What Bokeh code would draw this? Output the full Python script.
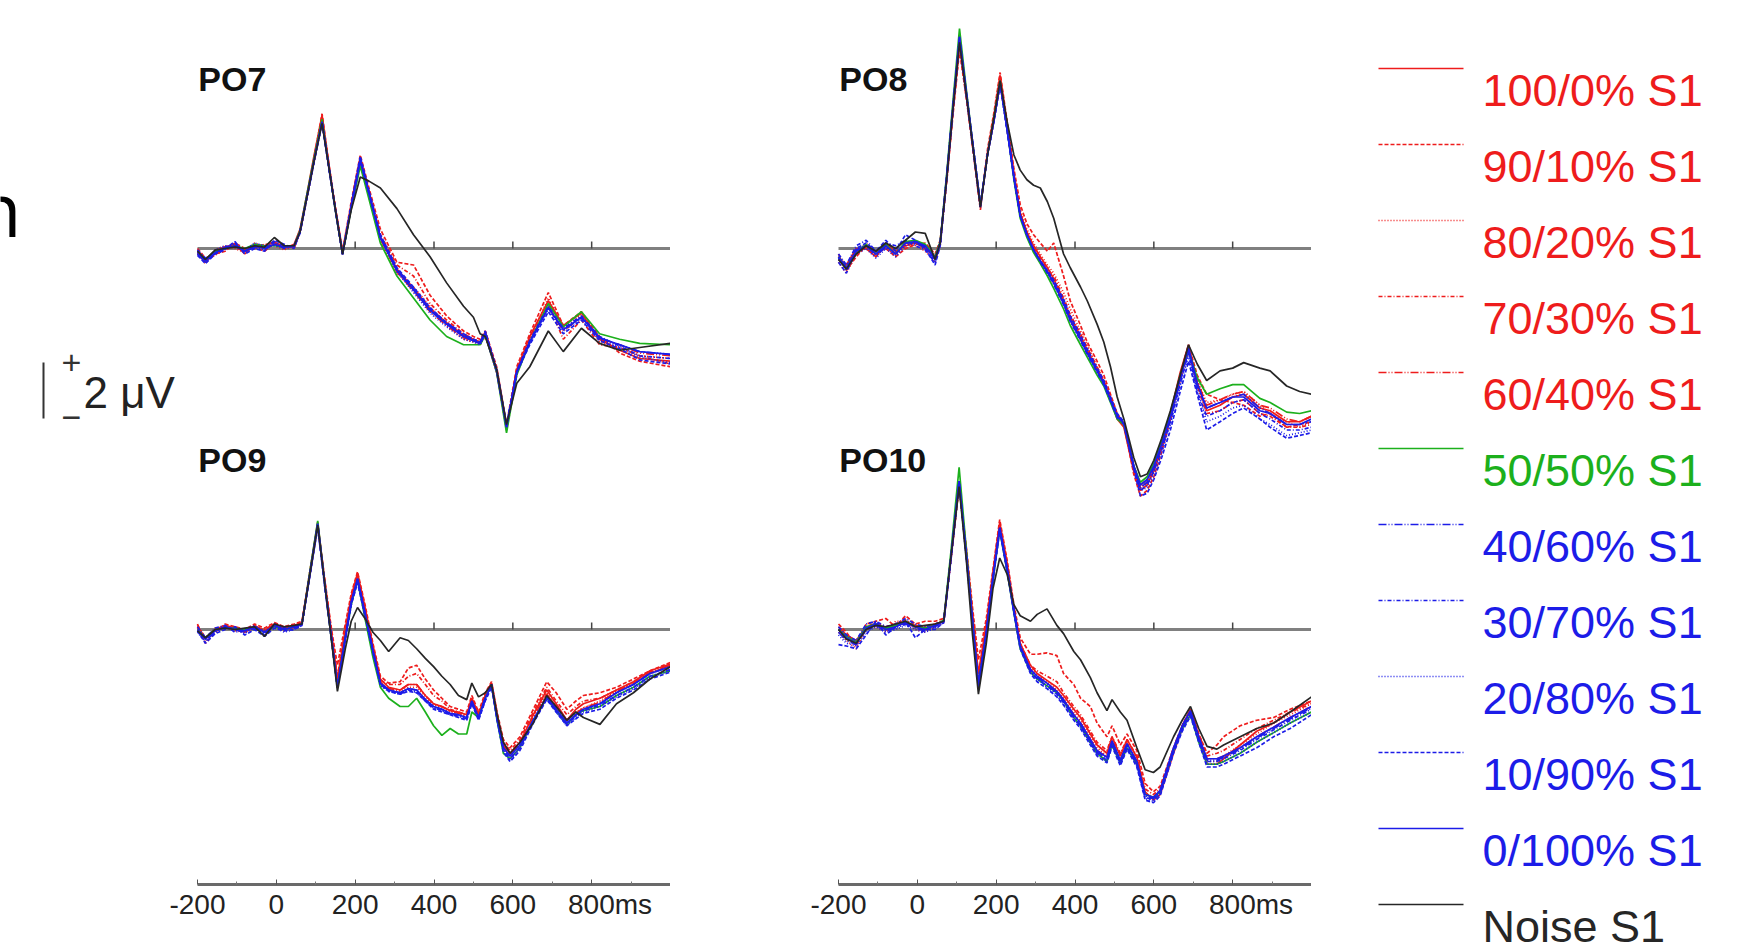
from bokeh.plotting import figure
from bokeh.layouts import row
from bokeh.models import Range1d, LinearAxis, FixedTicker
from bokeh.embed import file_html
from bokeh.resources import INLINE
from bokeh.core.properties import value

# ---------------- data (µV vs ms) ----------------
CONDITIONS = ["100/0% S1", "90/10% S1", "80/20% S1", "70/30% S1", "60/40% S1",
              "50/50% S1", "40/60% S1", "30/70% S1", "20/80% S1", "10/90% S1",
              "0/100% S1", "Noise S1"]

T7 = [-200,-180,-155,-130,-105,-80,-55,-30,-5,20,45,60,78,96,116,135,150,168,190,213,235,264,306,348,390,432,475,500,517,530,559,584,610,643,690,728,774,820,871,922,1000]
PO7_100 = [-0.2,-0.5,-0.1,0.05,0.15,-0.2,0.15,0.1,0.25,0.0,0.15,0.7,2.0,3.4,4.85,2.9,1.4,-0.15,1.6,3.3,2.0,0.4,-0.75,-1.45,-2.2,-2.7,-3.15,-3.3,-3.4,-3.05,-4.4,-6.55,-4.4,-3.2,-1.9,-2.8,-2.35,-3.3,-3.7,-4.0,-4.1]
PO7_90 = [0.0,-0.35,-0.2,-0.1,0.2,0.0,0.05,-0.1,0.2,0.1,0.05,0.6,1.9,3.3,4.9,2.9,1.5,-0.1,1.7,3.4,2.2,0.7,-0.5,-0.6,-1.7,-2.45,-3.0,-3.2,-3.3,-3.0,-4.3,-6.4,-4.3,-3.1,-1.6,-2.8,-2.3,-3.2,-3.8,-4.1,-4.3]
PO7_80 = [-0.15,-0.55,-0.05,0.1,0.0,-0.15,0.2,0.05,0.1,-0.05,0.1,0.55,1.85,3.2,4.7,2.8,1.4,-0.2,1.5,3.1,1.9,0.3,-0.9,-1.4,-2.1,-2.8,-3.3,-3.4,-3.5,-3.2,-4.5,-6.6,-4.6,-3.3,-1.8,-2.9,-2.4,-3.4,-3.6,-3.9,-4.0]
PO7_70 = [-0.05,-0.4,-0.25,0.0,0.1,-0.05,0.0,0.15,0.2,0.1,0.0,0.6,1.9,3.25,4.75,2.85,1.45,-0.15,1.55,3.25,2.1,0.5,-0.6,-1.0,-2.0,-2.6,-3.1,-3.3,-3.4,-3.0,-4.4,-6.5,-4.5,-3.3,-2.0,-3.3,-2.6,-3.5,-3.6,-3.9,-4.2]
PO7_60 = [-0.1,-0.4,-0.1,0.05,0.05,-0.1,0.1,0.0,0.15,0.05,0.1,0.6,1.9,3.2,4.6,2.8,1.4,-0.2,1.5,3.15,2.0,0.35,-0.85,-1.55,-2.3,-2.8,-3.25,-3.35,-3.45,-3.1,-4.5,-6.5,-4.5,-3.4,-2.1,-3.0,-2.5,-3.3,-3.5,-3.8,-3.9]
PO7_50 = [-0.1,-0.4,-0.1,0.0,0.1,0.0,0.15,0.1,0.1,0.05,0.1,0.65,2.0,3.3,4.7,2.8,1.35,-0.2,1.45,3.0,1.8,0.2,-1.0,-1.8,-2.6,-3.2,-3.5,-3.5,-3.5,-3.15,-4.5,-6.7,-4.6,-3.4,-2.0,-2.85,-2.3,-3.1,-3.3,-3.45,-3.5]
PO7_40 = [-0.2,-0.5,-0.15,0.05,0.15,-0.1,0.05,-0.05,0.2,0.0,0.1,0.6,1.9,3.2,4.6,2.8,1.4,-0.2,1.5,3.2,2.0,0.4,-0.8,-1.5,-2.25,-2.75,-3.2,-3.35,-3.45,-3.1,-4.45,-6.45,-4.5,-3.4,-2.15,-2.95,-2.5,-3.25,-3.5,-3.75,-3.85]
PO7_30 = [-0.05,-0.35,-0.2,-0.05,0.2,-0.15,0.1,0.0,0.25,0.1,0.05,0.55,1.85,3.15,4.55,2.75,1.35,-0.2,1.55,3.3,2.05,0.45,-0.75,-1.45,-2.2,-2.7,-3.15,-3.3,-3.4,-3.05,-4.4,-6.4,-4.45,-3.35,-2.1,-2.9,-2.45,-3.2,-3.55,-3.9,-4.0]
PO7_20 = [-0.15,-0.5,-0.05,0.1,0.05,-0.05,0.2,0.1,0.1,0.05,0.1,0.6,1.9,3.2,4.55,2.8,1.4,-0.2,1.5,3.2,2.0,0.4,-0.85,-1.6,-2.35,-2.85,-3.3,-3.4,-3.5,-3.15,-4.5,-6.5,-4.55,-3.45,-2.2,-3.0,-2.55,-3.3,-3.6,-3.95,-4.15]
PO7_10 = [-0.25,-0.55,-0.2,0.0,0.25,-0.2,0.0,-0.1,0.3,0.15,0.0,0.6,1.9,3.2,4.6,2.8,1.4,-0.2,1.6,3.35,2.1,0.5,-0.7,-1.4,-2.15,-2.7,-3.1,-3.3,-3.4,-3.0,-4.4,-6.45,-4.5,-3.5,-2.3,-3.1,-2.6,-3.35,-3.65,-4.05,-4.2]
PO7_0 = [-0.1,-0.45,-0.15,0.0,0.1,-0.1,0.1,0.0,0.15,0.05,0.1,0.6,1.9,3.2,4.6,2.8,1.4,-0.2,1.5,3.2,2.0,0.4,-0.8,-1.5,-2.25,-2.75,-3.2,-3.35,-3.45,-3.1,-4.45,-6.5,-4.5,-3.4,-2.15,-2.95,-2.5,-3.25,-3.5,-3.75,-3.85]
PO7_NOISE = [-0.1,-0.4,-0.05,0.0,0.05,0.0,0.1,0.05,0.4,0.1,0.1,0.6,1.9,3.2,4.55,2.8,1.4,-0.2,1.4,2.6,2.45,2.2,1.45,0.5,-0.3,-1.25,-2.1,-2.5,-3.1,-3.2,-4.4,-6.4,-4.9,-4.3,-3.0,-3.75,-2.9,-3.45,-3.7,-3.6,-3.45]

T9 = [-200,-180,-155,-130,-105,-80,-55,-30,-5,20,45,65,85,105,125,140,155,175,190,206,225,245,264,285,314,335,356,378,399,420,441,462,483,496,513,530,546,560,576,593,618,652,686,710,737,760,779,821,863,906,948,1000]
PO9_100 = [0.1,-0.3,0.0,0.15,0.05,-0.1,0.15,-0.05,0.2,0.05,0.15,0.25,2.1,3.9,1.5,-0.1,-1.8,0.0,1.2,2.05,0.8,-0.6,-1.8,-2.1,-2.2,-2.0,-2.0,-2.4,-2.7,-2.8,-2.95,-3.0,-3.1,-2.5,-3.1,-2.4,-1.95,-3.1,-4.2,-4.5,-4.1,-3.1,-2.2,-2.7,-3.3,-2.9,-2.7,-2.5,-2.2,-1.9,-1.5,-1.25]
PO9_90 = [0.2,-0.5,-0.1,0.2,0.1,0.0,0.2,0.05,0.25,0.1,0.2,0.3,2.1,3.8,1.6,0.0,-1.3,0.2,1.3,2.1,0.9,-0.5,-1.7,-1.95,-1.9,-1.4,-1.3,-1.8,-2.2,-2.5,-2.8,-2.9,-3.0,-2.4,-3.0,-2.3,-1.9,-3.0,-4.0,-4.3,-3.9,-2.9,-1.9,-2.3,-2.9,-2.6,-2.4,-2.3,-2.1,-1.8,-1.5,-1.2]
PO9_80 = [0.05,-0.4,0.05,0.1,-0.05,-0.1,0.05,-0.15,0.1,-0.05,0.05,0.2,2.0,3.8,1.4,-0.3,-2.0,-0.2,1.0,1.9,0.6,-0.7,-1.9,-2.2,-2.25,-2.1,-2.1,-2.5,-2.75,-2.85,-3.0,-3.05,-3.15,-2.55,-3.15,-2.45,-2.0,-3.2,-4.3,-4.6,-4.2,-3.2,-2.3,-2.8,-3.3,-3.0,-2.85,-2.6,-2.25,-1.95,-1.6,-1.3]
PO9_70 = [0.15,-0.3,-0.05,0.05,0.1,-0.05,0.1,0.0,0.2,0.0,0.1,0.2,2.0,3.8,1.5,-0.2,-1.7,0.0,1.1,2.0,0.7,-0.6,-1.85,-2.0,-2.0,-1.7,-1.6,-2.0,-2.4,-2.6,-2.9,-3.0,-3.1,-2.5,-3.1,-2.4,-1.95,-3.1,-4.1,-4.4,-4.0,-3.0,-2.1,-2.6,-3.1,-2.8,-2.6,-2.5,-2.2,-1.9,-1.6,-1.3]
PO9_60 = [0.0,-0.35,0.0,0.1,0.0,-0.05,0.1,-0.1,0.15,0.0,0.1,0.2,2.0,3.85,1.4,-0.3,-2.0,-0.2,1.0,1.9,0.65,-0.7,-1.9,-2.15,-2.2,-2.0,-2.0,-2.4,-2.7,-2.8,-2.95,-3.05,-3.15,-2.55,-3.15,-2.45,-2.0,-3.15,-4.25,-4.55,-4.15,-3.2,-2.35,-2.8,-3.3,-3.05,-2.85,-2.65,-2.25,-1.95,-1.55,-1.3]
PO9_50 = [0.0,-0.3,0.0,0.05,0.05,0.0,0.1,-0.1,0.1,0.0,0.1,0.2,2.1,3.95,1.4,-0.4,-2.1,-0.3,0.9,1.8,0.4,-1.0,-2.1,-2.5,-2.8,-2.8,-2.5,-3.0,-3.5,-3.85,-3.6,-3.8,-3.8,-3.0,-3.2,-2.5,-2.0,-3.3,-4.5,-4.7,-4.3,-3.3,-2.5,-2.95,-3.45,-3.1,-2.95,-2.8,-2.4,-2.1,-1.7,-1.5]
PO9_40 = [-0.05,-0.4,-0.1,0.1,0.0,-0.1,0.05,-0.15,0.15,0.0,0.05,0.2,2.0,3.85,1.4,-0.3,-2.1,-0.3,1.0,1.85,0.6,-0.75,-1.95,-2.2,-2.3,-2.15,-2.2,-2.55,-2.8,-2.9,-3.05,-3.1,-3.2,-2.6,-3.2,-2.5,-2.0,-3.2,-4.3,-4.6,-4.2,-3.3,-2.45,-2.9,-3.4,-3.1,-2.9,-2.7,-2.3,-2.0,-1.6,-1.35]
PO9_30 = [0.1,-0.3,0.05,0.15,-0.1,0.0,0.15,-0.2,0.2,0.05,0.1,0.2,2.0,3.8,1.35,-0.35,-2.1,-0.35,0.95,1.8,0.55,-0.8,-2.0,-2.2,-2.35,-2.2,-2.25,-2.6,-2.85,-2.95,-3.1,-3.15,-3.25,-2.65,-3.25,-2.55,-2.05,-3.25,-4.35,-4.7,-4.3,-3.35,-2.5,-2.95,-3.45,-3.15,-2.95,-2.75,-2.4,-2.1,-1.7,-1.45]
PO9_20 = [-0.1,-0.45,-0.05,0.05,0.05,-0.15,0.1,-0.05,0.1,-0.1,0.0,0.15,1.95,3.75,1.3,-0.4,-2.15,-0.4,0.9,1.75,0.5,-0.85,-2.05,-2.25,-2.35,-2.2,-2.3,-2.6,-2.85,-2.95,-3.1,-3.15,-3.25,-2.65,-3.25,-2.55,-2.05,-3.3,-4.4,-4.75,-4.3,-3.35,-2.5,-3.0,-3.5,-3.2,-3.0,-2.8,-2.45,-2.15,-1.75,-1.5]
PO9_10 = [-0.05,-0.5,-0.15,0.0,0.1,-0.2,0.0,-0.25,0.05,-0.05,0.0,0.15,1.95,3.7,1.3,-0.35,-2.1,-0.35,0.9,1.7,0.5,-0.8,-2.0,-2.25,-2.35,-2.25,-2.3,-2.6,-2.9,-3.0,-3.1,-3.2,-3.3,-2.7,-3.3,-2.6,-2.1,-3.3,-4.45,-4.8,-4.4,-3.4,-2.55,-3.0,-3.5,-3.25,-3.05,-2.9,-2.5,-2.2,-1.8,-1.55]
PO9_0 = [0.0,-0.35,-0.05,0.1,0.0,-0.05,0.1,-0.1,0.15,0.0,0.1,0.2,2.0,3.85,1.4,-0.3,-2.1,-0.3,1.0,1.85,0.6,-0.75,-1.95,-2.2,-2.3,-2.15,-2.2,-2.55,-2.8,-2.9,-3.05,-3.1,-3.2,-2.6,-3.2,-2.5,-2.0,-3.2,-4.3,-4.6,-4.2,-3.3,-2.45,-2.9,-3.4,-3.1,-2.9,-2.7,-2.3,-2.0,-1.6,-1.35]
PO9_NOISE = [-0.05,-0.3,0.0,0.05,0.0,0.05,0.1,-0.25,0.2,0.1,0.15,0.2,2.0,3.8,1.4,-0.4,-2.25,-0.7,0.3,0.8,0.4,-0.1,-0.4,-0.8,-0.3,-0.4,-0.7,-1.05,-1.35,-1.7,-2.0,-2.4,-2.55,-1.95,-2.45,-2.3,-2.0,-3.1,-4.1,-4.5,-4.1,-3.4,-2.4,-2.8,-3.3,-3.0,-3.2,-3.45,-2.7,-2.3,-1.8,-1.35]

T8 = [-200,-180,-155,-130,-105,-80,-55,-30,-5,20,45,58,75,90,107,125,140,160,178,195,210,228,245,261,278,295,312,330,346,371,388,414,431,456,473,490,507,524,549,566,583,600,620,642,667,688,710,734,768,800,828,869,895,937,970,1000]
PO8_100 = [-0.4,-0.6,0.0,0.0,-0.3,0.2,-0.1,0.1,0.2,0.0,-0.3,0.2,2.6,5.0,7.5,5.5,3.8,1.5,3.5,4.9,6.3,4.5,2.7,1.3,0.6,0.1,-0.3,-0.7,-1.1,-1.9,-2.5,-3.2,-3.7,-4.4,-4.85,-5.5,-6.2,-6.5,-8.1,-8.8,-8.6,-8.1,-7.2,-6.0,-4.5,-3.5,-4.9,-5.9,-5.7,-5.4,-5.3,-5.8,-5.9,-6.3,-6.3,-6.1]
PO8_90 = [-0.2,-0.8,-0.3,0.1,-0.1,0.0,-0.3,0.0,0.15,0.2,-0.2,0.3,2.5,4.8,7.2,5.4,3.7,1.4,3.6,5.0,6.4,4.6,2.9,1.6,0.9,0.5,0.2,-0.1,0.2,-1.0,-1.9,-2.8,-3.4,-4.1,-4.6,-5.3,-6.0,-6.4,-8.2,-9.0,-8.8,-8.3,-7.4,-6.2,-4.6,-3.5,-4.6,-5.3,-5.5,-5.6,-5.7,-6.1,-6.0,-6.5,-6.4,-6.3]
PO8_80 = [-0.5,-0.9,-0.2,0.2,-0.2,0.0,-0.25,0.1,0.1,-0.1,-0.5,0.1,2.5,4.9,7.3,5.4,3.8,1.5,3.4,4.8,6.2,4.5,2.8,1.4,0.7,0.2,-0.2,-0.6,-0.9,-1.6,-2.2,-3.0,-3.5,-4.3,-4.8,-5.4,-6.0,-6.4,-8.0,-8.7,-8.5,-8.0,-7.3,-6.2,-4.8,-3.7,-4.8,-5.6,-5.5,-5.3,-5.2,-5.7,-6.0,-6.3,-6.5,-6.3]
PO8_70 = [-0.3,-0.6,-0.1,0.1,-0.3,0.1,-0.15,0.15,0.25,0.05,-0.4,0.2,2.6,5.0,7.5,5.5,3.8,1.55,3.4,4.8,6.2,4.4,2.7,1.3,0.6,0.05,-0.35,-0.75,-1.0,-1.8,-2.4,-3.1,-3.6,-4.3,-4.8,-5.4,-6.1,-6.4,-8.0,-8.7,-8.5,-8.0,-7.2,-6.2,-4.7,-3.7,-5.0,-6.0,-5.9,-5.6,-5.5,-6.0,-6.1,-6.5,-6.5,-6.4]
PO8_60 = [-0.3,-0.7,-0.1,0.1,-0.2,0.1,-0.2,0.2,0.25,0.1,-0.35,0.2,2.7,5.1,7.6,5.6,3.9,1.6,3.4,4.7,6.0,4.3,2.6,1.2,0.5,-0.05,-0.45,-0.85,-1.25,-2.0,-2.6,-3.3,-3.8,-4.45,-4.9,-5.5,-6.1,-6.35,-7.9,-8.6,-8.4,-7.9,-7.1,-6.1,-4.7,-3.6,-4.8,-5.7,-5.5,-5.3,-5.2,-5.7,-5.8,-6.2,-6.3,-6.1]
PO8_50 = [-0.3,-0.7,-0.1,0.15,-0.2,0.15,-0.2,0.25,0.3,0.15,-0.3,0.25,2.8,5.3,8.0,5.7,3.9,1.6,3.4,4.8,6.1,4.3,2.5,1.1,0.4,-0.15,-0.55,-1.0,-1.45,-2.2,-2.8,-3.5,-3.95,-4.6,-5.0,-5.6,-6.2,-6.4,-7.9,-8.5,-8.3,-7.8,-7.0,-6.0,-4.6,-3.7,-4.7,-5.3,-5.1,-4.95,-4.95,-5.45,-5.6,-5.95,-6.0,-5.9]
PO8_40 = [-0.35,-0.75,-0.05,0.1,-0.25,0.05,-0.2,0.2,0.2,0.05,-0.4,0.2,2.7,5.1,7.7,5.6,3.9,1.6,3.4,4.7,6.0,4.3,2.6,1.2,0.5,-0.05,-0.45,-0.85,-1.25,-2.0,-2.6,-3.3,-3.8,-4.45,-4.9,-5.5,-6.1,-6.35,-7.9,-8.7,-8.5,-8.0,-7.2,-6.2,-4.8,-3.7,-5.0,-5.8,-5.6,-5.4,-5.3,-5.8,-6.0,-6.4,-6.4,-6.3]
PO8_30 = [-0.2,-0.6,0.1,0.3,-0.1,0.2,0.1,0.3,0.1,-0.05,-0.5,0.15,2.6,5.0,7.6,5.5,3.8,1.5,3.4,4.7,6.0,4.3,2.6,1.2,0.5,-0.05,-0.5,-0.9,-1.3,-2.05,-2.65,-3.35,-3.85,-4.5,-4.95,-5.55,-6.15,-6.4,-8.0,-8.8,-8.6,-8.1,-7.3,-6.3,-4.9,-3.8,-5.2,-6.1,-5.9,-5.6,-5.5,-6.0,-6.2,-6.6,-6.6,-6.5]
PO8_20 = [-0.4,-0.8,-0.2,0.0,-0.35,0.0,-0.3,0.1,0.2,0.0,-0.45,0.2,2.7,5.1,7.6,5.6,3.9,1.6,3.4,4.7,6.0,4.3,2.6,1.2,0.5,-0.05,-0.45,-0.85,-1.2,-1.9,-2.5,-3.2,-3.7,-4.4,-4.85,-5.45,-6.05,-6.3,-7.9,-8.8,-8.7,-8.2,-7.4,-6.4,-5.0,-3.9,-5.2,-6.3,-6.1,-5.8,-5.7,-6.2,-6.4,-6.8,-6.7,-6.6]
PO8_10 = [-0.5,-0.9,0.0,0.2,-0.1,0.3,-0.1,0.5,0.3,0.0,-0.6,0.1,2.6,5.0,7.5,5.5,3.8,1.5,3.4,4.7,6.0,4.3,2.6,1.2,0.5,-0.05,-0.45,-0.8,-1.15,-1.85,-2.45,-3.15,-3.65,-4.35,-4.8,-5.4,-6.0,-6.3,-8.0,-9.0,-8.9,-8.4,-7.6,-6.6,-5.2,-4.1,-5.3,-6.6,-6.3,-6.0,-5.8,-6.2,-6.5,-6.9,-6.8,-6.7]
PO8_0 = [-0.3,-0.7,-0.1,0.1,-0.2,0.1,-0.2,0.2,0.25,0.1,-0.35,0.2,2.7,5.1,7.7,5.6,3.9,1.6,3.4,4.7,6.0,4.3,2.6,1.2,0.5,-0.05,-0.45,-0.85,-1.25,-2.0,-2.6,-3.3,-3.8,-4.45,-4.9,-5.5,-6.1,-6.35,-7.9,-8.6,-8.4,-7.9,-7.1,-6.1,-4.7,-3.6,-4.9,-5.8,-5.6,-5.4,-5.4,-5.9,-6.0,-6.4,-6.4,-6.2]
PO8_NOISE = [-0.4,-0.75,-0.2,0.1,-0.1,0.2,0.0,0.3,0.6,0.55,-0.4,0.2,2.6,5.0,7.5,5.5,3.8,1.5,3.4,4.8,6.1,4.6,3.4,2.85,2.5,2.3,2.2,1.7,1.1,-0.2,-0.7,-1.4,-1.9,-2.75,-3.4,-4.3,-5.4,-6.2,-7.6,-8.3,-8.2,-7.7,-6.9,-5.9,-4.6,-3.5,-4.2,-4.8,-4.45,-4.35,-4.15,-4.35,-4.45,-5.0,-5.2,-5.3]

T10 = [-200,-180,-155,-130,-105,-80,-55,-30,-5,20,45,67,85,106,125,140,155,175,192,209,228,245,261,287,304,329,354,371,397,414,439,456,481,494,515,532,557,578,599,616,650,672,693,714,735,760,777,819,861,904,946,1000]
PO10_100 = [0.1,-0.2,-0.4,0.1,0.15,0.05,0.2,0.2,0.15,0.05,0.2,0.3,2.6,5.3,2.8,0.6,-1.6,0.2,2.1,3.9,2.4,0.8,-0.5,-1.3,-1.6,-1.85,-2.1,-2.4,-2.9,-3.2,-3.8,-4.2,-4.5,-3.9,-4.6,-4.0,-4.65,-5.9,-6.2,-6.0,-4.5,-3.6,-2.9,-3.9,-4.9,-4.9,-4.7,-4.2,-3.7,-3.4,-3.0,-2.6]
PO10_90 = [0.2,-0.1,-0.6,0.2,0.3,0.4,0.1,0.5,0.2,0.3,0.3,0.4,2.5,5.2,2.9,0.8,-1.1,0.4,2.2,4.0,2.5,0.9,-0.3,-0.9,-0.9,-0.85,-0.95,-1.6,-2.0,-2.5,-2.8,-3.4,-3.9,-3.5,-4.2,-3.8,-4.4,-5.6,-5.9,-5.7,-4.3,-3.5,-2.9,-3.8,-4.5,-4.2,-3.9,-3.5,-3.3,-3.2,-2.9,-2.6]
PO10_80 = [-0.1,-0.4,-0.7,0.0,0.1,-0.1,0.3,0.3,0.0,-0.1,0.1,0.25,2.5,5.2,2.7,0.4,-1.8,0.0,2.0,3.8,2.3,0.75,-0.55,-1.4,-1.65,-1.9,-2.2,-2.5,-3.0,-3.3,-3.9,-4.3,-4.6,-4.0,-4.7,-4.1,-4.75,-5.95,-6.1,-5.9,-4.4,-3.5,-2.9,-3.9,-4.8,-4.8,-4.6,-4.2,-3.8,-3.4,-3.1,-2.7]
PO10_70 = [0.0,-0.2,-0.5,0.1,0.25,0.1,0.2,0.35,0.15,0.1,0.2,0.3,2.6,5.3,2.7,0.5,-1.7,0.1,2.0,3.8,2.3,0.75,-0.5,-1.3,-1.5,-1.7,-1.9,-2.3,-2.8,-3.1,-3.7,-4.1,-4.4,-3.9,-4.5,-4.0,-4.6,-5.8,-6.0,-5.8,-4.4,-3.5,-2.9,-3.8,-4.6,-4.5,-4.4,-4.0,-3.6,-3.3,-3.0,-2.7]
PO10_60 = [0.0,-0.3,-0.5,0.05,0.2,0.0,0.1,0.25,0.1,0.0,0.15,0.3,2.6,5.4,2.6,0.3,-2.0,-0.1,1.9,3.7,2.2,0.7,-0.6,-1.45,-1.7,-1.95,-2.25,-2.55,-3.1,-3.4,-4.0,-4.4,-4.65,-4.05,-4.75,-4.15,-4.8,-6.0,-6.1,-5.85,-4.3,-3.5,-2.95,-3.9,-4.7,-4.7,-4.6,-4.3,-3.9,-3.55,-3.2,-2.8]
PO10_50 = [0.0,-0.25,-0.45,0.1,0.2,0.05,0.15,0.3,0.1,0.05,0.15,0.35,2.8,5.9,2.8,0.3,-2.0,-0.15,1.8,3.6,2.1,0.6,-0.7,-1.55,-1.8,-2.05,-2.3,-2.6,-3.2,-3.5,-4.1,-4.5,-4.8,-4.2,-4.85,-4.3,-4.9,-6.0,-6.1,-5.9,-4.4,-3.6,-3.1,-4.1,-4.9,-4.9,-4.8,-4.5,-4.1,-3.75,-3.4,-3.0]
PO10_40 = [-0.1,-0.4,-0.55,0.0,0.15,-0.05,0.05,0.2,0.05,-0.05,0.1,0.3,2.6,5.4,2.6,0.3,-2.0,-0.1,1.9,3.7,2.2,0.7,-0.6,-1.5,-1.75,-2.0,-2.3,-2.6,-3.15,-3.45,-4.05,-4.45,-4.7,-4.1,-4.8,-4.2,-4.85,-6.05,-6.15,-5.9,-4.35,-3.55,-3.0,-3.95,-4.75,-4.75,-4.65,-4.35,-3.95,-3.6,-3.25,-2.85]
PO10_30 = [0.1,-0.2,-0.4,0.2,0.3,0.1,0.2,0.4,0.2,0.1,0.2,0.3,2.6,5.4,2.6,0.3,-2.0,-0.1,1.9,3.7,2.2,0.7,-0.6,-1.5,-1.8,-2.05,-2.35,-2.65,-3.2,-3.5,-4.1,-4.5,-4.75,-4.15,-4.85,-4.25,-4.9,-6.1,-6.2,-5.95,-4.4,-3.6,-3.05,-4.0,-4.8,-4.8,-4.7,-4.4,-4.0,-3.65,-3.3,-2.9]
PO10_20 = [-0.2,-0.5,-0.6,-0.1,0.1,-0.1,0.0,0.15,0.0,-0.1,0.05,0.25,2.5,5.3,2.5,0.2,-2.1,-0.2,1.8,3.6,2.1,0.65,-0.65,-1.55,-1.8,-2.1,-2.4,-2.7,-3.25,-3.55,-4.15,-4.55,-4.8,-4.2,-4.9,-4.3,-4.95,-6.15,-6.25,-6.0,-4.45,-3.65,-3.1,-4.05,-4.9,-4.9,-4.8,-4.5,-4.1,-3.75,-3.4,-3.0]
PO10_10 = [-0.55,-0.6,-0.7,-0.2,0.3,-0.2,0.1,0.3,-0.3,0.0,0.0,0.25,2.5,5.3,2.5,0.2,-2.1,-0.2,1.8,3.6,2.1,0.6,-0.7,-1.6,-1.9,-2.15,-2.45,-2.75,-3.3,-3.6,-4.2,-4.6,-4.85,-4.25,-4.95,-4.35,-5.0,-6.2,-6.3,-6.05,-4.5,-3.7,-3.15,-4.1,-5.0,-5.0,-4.9,-4.6,-4.3,-3.9,-3.6,-3.1]
PO10_0 = [0.0,-0.3,-0.5,0.05,0.2,0.0,0.1,0.25,0.1,0.0,0.15,0.3,2.6,5.4,2.6,0.3,-2.0,-0.1,1.9,3.7,2.2,0.7,-0.6,-1.45,-1.7,-1.95,-2.25,-2.55,-3.1,-3.4,-4.0,-4.4,-4.65,-4.05,-4.75,-4.15,-4.8,-6.0,-6.1,-5.85,-4.3,-3.5,-2.95,-3.9,-4.7,-4.7,-4.6,-4.3,-3.9,-3.55,-3.2,-2.8]
PO10_NOISE = [0.0,-0.35,-0.5,0.0,0.15,0.1,0.2,0.3,0.1,0.15,0.2,0.3,2.6,5.2,2.4,-0.2,-2.35,-0.5,1.5,2.6,2.0,0.9,0.5,0.3,0.55,0.75,0.15,-0.15,-0.8,-1.1,-1.75,-2.3,-2.95,-2.55,-3.0,-3.3,-4.3,-5.1,-5.2,-5.0,-3.9,-3.3,-2.8,-3.6,-4.25,-4.35,-4.2,-3.9,-3.6,-3.4,-3.0,-2.45]

X_TICKS = [-200, 0, 200, 400, 600, 800]
X_MINOR = [-100, 100, 300, 500, 700, 900]
ZERO_TICKS = [200, 400, 600, 800]

# ---------------- styles / layout ----------------
RED, GREEN, BLUE, BLACK = "#ee1c1c", "#1cb01c", "#1c1ce8", "#262626"
COLORS = [RED] * 5 + [GREEN] + [BLUE] * 5 + [BLACK]
DASHES = ["solid", "4 2", "1 2", "4 2 1 2", "8 2 1 2 1 2", "solid",
          "8 2 1 2 1 2", "4 2 1 2", "1 2", "4 2", "solid", "solid"]
FONT = value("Liberation Sans")

K = 27.5                 # px per µV
PXMS = 473.0 / 1200.0    # px per ms
TOP_ZERO, BOT_ZERO = 248, 629   # screen y of zero lines
FRAME_TOP, AXIS_Y = 0, 884      # screen y of frame top / x-axis


def column_figure(canvas_left, frame_w, axis_left):
    x0 = -200 - (axis_left - canvas_left) / PXMS
    p = figure(frame_width=frame_w, frame_height=AXIS_Y - FRAME_TOP,
               x_range=Range1d(x0, x0 + frame_w / PXMS),
               y_range=Range1d((TOP_ZERO - AXIS_Y) / K, (TOP_ZERO - FRAME_TOP) / K),
               output_backend="svg", toolbar_location=None,
               x_axis_location=None, y_axis_location=None, min_border=0,
               outline_line_color=None, background_fill_color="white",
               border_fill_color="white")
    p.extra_y_ranges = {"bot": Range1d((BOT_ZERO - AXIS_Y) / K, (BOT_ZERO - FRAME_TOP) / K)}
    p.xgrid.visible = False
    p.ygrid.visible = False
    ax = LinearAxis(ticker=FixedTicker(ticks=X_TICKS, minor_ticks=X_MINOR), bounds=(-200, 1000))
    ax.major_label_overrides = {-200: "-200", 800: "\u2007\u2007\u2009800ms"}
    ax.axis_line_color = "#6a6a6a"
    ax.axis_line_width = 3
    ax.major_tick_in = 5
    ax.major_tick_out = 0
    ax.minor_tick_in = 3
    ax.minor_tick_out = 0
    ax.major_tick_line_color = "#555555"
    ax.minor_tick_line_color = "#777777"
    ax.major_label_standoff = 4
    ax.major_label_text_font = "Liberation Sans"
    ax.major_label_text_font_size = "28px"
    ax.major_label_text_color = "#222222"
    p.add_layout(ax, "below")
    return p


def draw_panel(p, name, t, series, rng):
    kw = {} if rng is None else {"y_range_name": rng}
    p.segment(x0=[-200], y0=[0], x1=[1000], y1=[0], line_color="#808080", line_width=3, **kw)
    p.segment(x0=ZERO_TICKS, y0=[0] * 4, x1=ZERO_TICKS, y1=[7 / K] * 4,
              line_color="#444444", line_width=1.5, **kw)
    for vals, c, d in zip(series, COLORS, DASHES):
        assert len(vals) == len(t), (name, len(vals), len(t))
        p.line(t, vals, line_color=c, line_dash=d, line_width=1.7, **kw)
    p.text(x=[-198], y=[(TOP_ZERO - 78) / K], text=[name], text_font=FONT,
           text_font_style="bold", text_font_size="34px", text_color="#111111",
           text_align="left", text_baseline="middle", **kw)


left = column_figure(0, 670, 197)
right = column_figure(670, 641, 838)

draw_panel(left, "PO7", T7, [PO7_100, PO7_90, PO7_80, PO7_70, PO7_60, PO7_50,
                             PO7_40, PO7_30, PO7_20, PO7_10, PO7_0, PO7_NOISE], None)
draw_panel(left, "PO9", T9, [PO9_100, PO9_90, PO9_80, PO9_70, PO9_60, PO9_50,
                             PO9_40, PO9_30, PO9_20, PO9_10, PO9_0, PO9_NOISE], "bot")
draw_panel(right, "PO8", T8, [PO8_100, PO8_90, PO8_80, PO8_70, PO8_60, PO8_50,
                              PO8_40, PO8_30, PO8_20, PO8_10, PO8_0, PO8_NOISE], None)
draw_panel(right, "PO10", T10, [PO10_100, PO10_90, PO10_80, PO10_70, PO10_60, PO10_50,
                                PO10_40, PO10_30, PO10_20, PO10_10, PO10_0, PO10_NOISE], "bot")


# scale bar and cut-off letter, drawn in the left figure (screen px -> data)
def sx(px):
    return -200 + (px - 197) / PXMS


def sy(px):
    return (TOP_ZERO - px) / K


left.segment(x0=[sx(43)], y0=[sy(362)], x1=[sx(43)], y1=[sy(418)], line_color="#333333", line_width=2)
left.text(x=[sx(71)], y=[sy(362)], text=["+"], text_font=FONT, text_font_size="34px",
          text_color="#333333", text_align="center", text_baseline="middle")
left.text(x=[sx(71)], y=[sy(417)], text=["\u2212"], text_font=FONT, text_font_size="34px",
          text_color="#333333", text_align="center", text_baseline="middle")
left.text(x=[sx(83)], y=[sy(392)], text=["2 \u03bcV"], text_font=FONT, text_font_size="44px",
          text_color="#222222", text_align="left", text_baseline="middle")
left.text(x=[sx(21)], y=[sy(207)], text=["n"], text_font=value("Open Sans"), text_font_size="75px",
          text_color="#000000", text_align="right", text_baseline="middle")

# legend figure
leg = figure(frame_width=447, frame_height=946, x_range=Range1d(1311, 1758),
             y_range=Range1d(946, 0), output_backend="svg", toolbar_location=None,
             x_axis_location=None, y_axis_location=None, min_border=0,
             outline_line_color=None, background_fill_color="white", border_fill_color="white")
leg.xgrid.visible = False
leg.ygrid.visible = False
LEG_Y0, LEG_DY = 68, 76
for i, (lab, c, d) in enumerate(zip(CONDITIONS, COLORS, DASHES)):
    y = LEG_Y0 + LEG_DY * i
    leg.segment(x0=[1378], y0=[y], x1=[1463], y1=[y], line_color=c, line_dash=d, line_width=1.6)
    leg.text(x=[1482], y=[y + 22], text=[lab], text_font=FONT, text_font_size="45px",
             text_color=c, text_align="left", text_baseline="middle")

layout = row(left, right, leg)
open("out.html", "w").write(file_html(layout, INLINE))
